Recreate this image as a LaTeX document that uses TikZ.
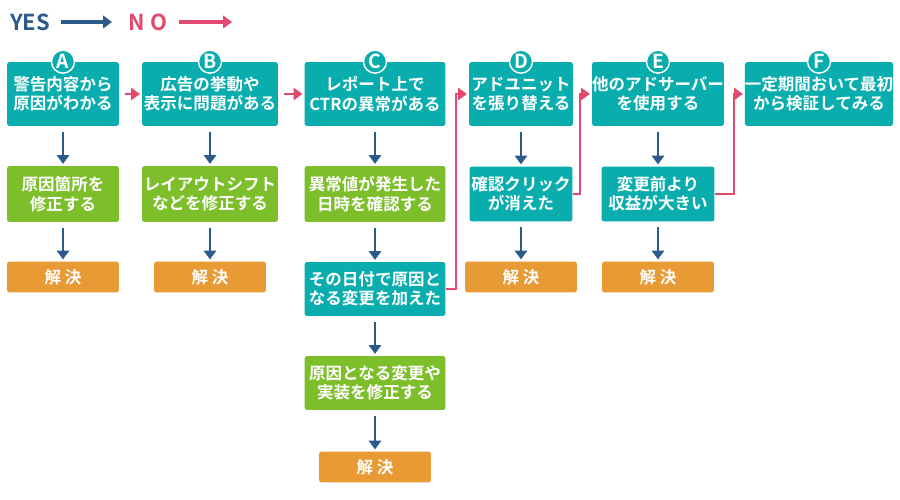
\documentclass[tikz,border=0pt]{standalone}
\usepackage{fontspec}
\setmainfont{Noto Sans CJK JP}[BoldFont={* Bold}]
\usetikzlibrary{arrows.meta}
\definecolor{teal1}{HTML}{0AADAE}
\definecolor{green1}{HTML}{7DBE2B}
\definecolor{orange1}{HTML}{E89A35}
\definecolor{blue1}{HTML}{2B5A8B}
\definecolor{pink1}{HTML}{E1496F}
\begin{document}
\begin{tikzpicture}[
    x=0.02cm, y=-0.02cm,
    font=\fontsize{9.4}{11}\selectfont\bfseries,
    box/.style={rounded corners=1.5pt, text=white, align=center, inner sep=0pt},
    stepbox/.style={box, fill=teal1, minimum height=1.28cm},
    fixbox/.style={box, fill=green1, minimum height=1.12cm},
    okbox/.style={box, fill=orange1, minimum width=2.24cm, minimum height=0.62cm},
    tag/.style={circle, draw=white, line width=0.8pt, fill=teal1, text=white, inner sep=0pt, minimum size=0.46cm, font=\fontsize{11}{11}\selectfont\bfseries},
    yes/.style={blue1, line width=1.1pt, -{Triangle[length=5pt,width=7pt]}},
    no/.style={pink1, line width=1.1pt, -{Triangle[length=5pt,width=7pt]}},
]
\useasboundingbox (0,0) rectangle (900,500);

% Legend
\node[text=blue1, font=\fontsize{12.5}{12.5}\selectfont\bfseries] (lyes) at (30,22) {YES};
\coordinate (lyesend) at (112,22);
\draw[yes, line width=2pt] (lyes.east) ++(3pt,0) -- (lyesend);
\node[text=pink1, font=\fontsize{12.5}{12.5}\selectfont\bfseries] (lno) at (148,22) {N\ O};
\coordinate (lnoend) at (232,22);
\draw[no, line width=2pt] (lno.east) ++(3pt,0) -- (lnoend);

% Top row
\node[stepbox, minimum width=2.24cm] (a1) at (63,94) {警告内容から\\原因がわかる};
\node[stepbox, minimum width=2.72cm] (b1) at (210,94) {広告の挙動や\\表示に問題がある};
\node[stepbox, minimum width=2.82cm] (c1) at (375,94) {レポート上で\\CTRの異常がある};
\node[stepbox, minimum width=2.08cm] (d1) at (521,94) {アドユニット\\を張り替える};
\node[stepbox, minimum width=2.54cm] (e1) at (658,94) {他のアドサーバー\\を使用する};
\node[stepbox, minimum width=2.96cm] (f1) at (819,94) {一定期間おいて最初\\から検証してみる};
\foreach \n/\l in {a1/A, b1/B, c1/C, d1/D, e1/E, f1/F}
    \node[tag] at (\n.north) {\l};

% Second row
\node[fixbox, minimum width=2.24cm] (a2) at (63,194) {原因箇所を\\修正する};
\node[fixbox, minimum width=2.72cm] (b2) at (210,194) {レイアウトシフト\\などを修正する};
\node[fixbox, minimum width=2.82cm] (c2) at (375,194) {異常値が発生した\\日時を確認する};
\node[stepbox, minimum width=2.06cm, minimum height=1.1cm] (d2) at (521,194) {確認クリック\\が消えた};
\node[stepbox, minimum width=2.26cm, minimum height=1.1cm] (e2) at (658,194) {変更前より\\収益が大きい};

% Third row
\node[okbox] (a3) at (63,277) {解\ 決};
\node[okbox] (b3) at (210,277) {解\ 決};
\node[stepbox, minimum width=2.82cm, minimum height=1.08cm] (c3) at (375,289) {その日付で原因と\\なる変更を加えた};
\node[okbox] (d3) at (521,277) {解\ 決};
\node[okbox] (e3) at (658,277) {解\ 決};

% Column C
\node[fixbox, minimum width=2.82cm, minimum height=1.08cm] (c4) at (375,383) {原因となる変更や\\実装を修正する};
\node[okbox] (c5) at (375,467) {解\ 決};

% Yes arrows
\foreach \s/\t in {a1/a2, a2/a3, b1/b2, b2/b3, c1/c2, c2/c3, c3/c4, c4/c5, d1/d2, d2/d3, e1/e2, e2/e3}
    \draw[yes] ([yshift=-3pt]\s.south) -- ([yshift=1pt]\t.north);

% No arrows
\draw[no] ([xshift=3pt]a1.east) -- ([xshift=-1pt]b1.west);
\draw[no] ([xshift=3pt]b1.east) -- ([xshift=-1pt]c1.west);
\draw[no] (c3.east) -| ++(10,0) |- ([xshift=-1pt]d1.west);
\draw[no] (d2.east) -| ++(7,0) |- ([xshift=-1pt]e1.west);
\draw[no] (e2.east) -| ++(19,0) |- ([xshift=-1pt]f1.west);
\end{tikzpicture}
\end{document}
